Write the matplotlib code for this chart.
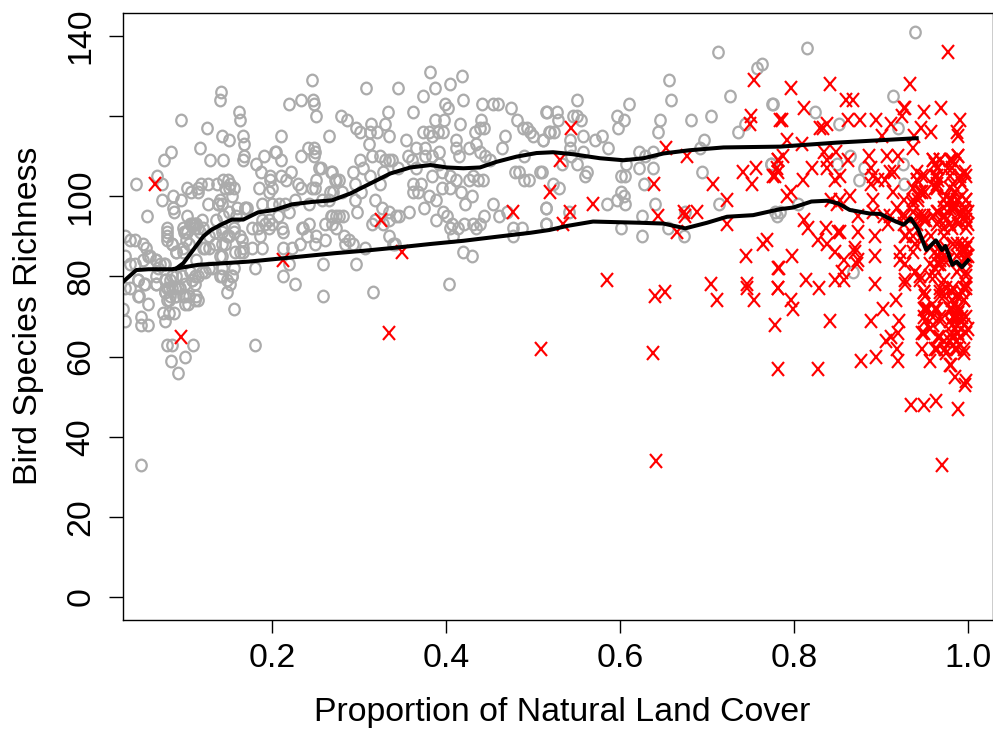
import matplotlib
matplotlib.use("Agg")
import matplotlib.pyplot as plt
from matplotlib.markers import MarkerStyle
from matplotlib.transforms import Affine2D

plt.rcParams['font.family'] = ['Liberation Sans', 'DejaVu Sans']

x_label = "Proportion of Natural Land Cover"
y_label = "Bird Species Richness"
x_ticks = [0.2, 0.4, 0.6, 0.8, 1.0]
y_ticks = [0, 20, 40, 60, 80, 100, 120, 140]
y_tick_labels = ["0", "20", "40", "60", "80", "100", "", "140"]

gray_points = [
(.141,126),(.140,124),(.246,129),(.095,119),(.125,117),(.162,121),(.163,119),(.220,123),(.233,124),(.247,124),(.248,123),(.251,120),
(.142,115),(.150,114),(.167,115),(.168,113),(.210,115),(.265,115),(.117,112),(.084,111),(.076,109),(.129,109),(.144,109),(.168,110),
(.167,109),(.191,110),(.203,111),(.205,111),(.210,109),(.233,110),(.241,112),(.248,112),(.249,111),(.248,110),(.182,108),(.187,106),
(.198,105),(.198,104),(.222,106),(.210,105),(.216,104),(.254,107),(.256,107),(.268,106),(.250,104),(.068,105),(.044,103),(.074,103),
(.102,102),(.107,101),(.115,102),(.118,103),(.126,103),(.137,103),(.144,104),(.149,104),(.152,103),(.146,102),(.156,102),(.150,102),
(.115,101),(.185,102),(.200,102),(.196,101),(.230,103),(.233,102),(.246,102),(.249,102),(.267,101),(.272,104),(.073,99),(.086,100),
(.095,99),(.086,97),(.087,96),(.154,100),(.140,99),(.126,98),(.138,98),(.142,98),(.056,95),(.102,95),(.160,97),(.169,97),(.171,97),
(.189,98),(.200,98),(.208,98),(.215,98),(.226,99),(.242,98),(.257,99),(.265,99),(.219,96),(.268,95),(.207,95),(.261,93),(.242,93),
(.234,92),(.110,93),(.119,94),(.136,94),(.144,95),(.177,92),(.192,93),(.196,94),(.188,94),(.200,93),(.211,92),(.079,92),(.098,92),(.115,92),
(.079,91),(.079,89),(.085,88),(.099,91),(.101,89),(.104,88),(.090,86),(.098,86),(.108,93),(.113,93),(.123,87),(.134,88),(.142,91),
(.150,90),(.142,88),(.156,92),(.165,89),(.167,86),(.157,86),(.142,85),(.184,92),(.196,92),(.186,90),(.188,87),(.180,82),(.177,87),
(.213,91),(.213,87),(.223,87),(.232,88),(.236,92),(.240,90),(.249,88),(.251,90),(.261,89),(.259,83),(.219,83),(.213,80),(.226,78),
(.259,75),(.156,72),(.148,76),(.152,78),(.154,80),(.142,80),(.142,82),(.156,82),(.127,82),(.119,81),(.111,80),(.111,78),(.108,79),
(.031,90),(.037,89),(.042,89),(.052,88),(.055,87),(.031,85),(.037,83),(.058,85),(.052,84),(.042,83),(.067,84),(.076,83),(.069,82),
(.067,80),(.046,79),(.053,78),(.037,77),(.031,77),(.046,75),(.047,75),(.058,73),(.067,78),(.077,79),(.083,79),(.090,80),(.100,78),
(.079,77),(.085,77),(.092,77),(.077,76),(.083,75),(.079,74),(.090,75),(.098,75),(.104,75),(.111,74),(.115,74),(.100,73),(.103,73),
(.087,71),(.081,71),(.075,71),(.077,69),(.049,70),(.049,68),(.058,68),(.031,69),(.029,72),(.079,63),(.085,63),(.109,63),(.180,63),
(.100,60),(.084,59),(.092,56),(.049,33),
(.100,91),(.106,93),(.113,93),(.121,92),(.127,90),(.134,91),(.142,92),(.148,90),(.156,91),(.146,88),(.140,85),(.127,87),(.121,87),
(.113,84),(.106,81),(.096,80),(.085,80),(.077,79),(.081,77),(.088,77),(.094,77),(.108,79),(.115,80),(.123,81),(.131,82),(.140,80),
(.154,80),(.148,79),(.067,78),(.054,78),(.046,79),(.067,84),(.060,85),(.071,83),(.077,83),(.079,90),(.085,88),(.090,86),(.098,87),
(.102,91),(.111,92),(.117,91),(.159,95),(.167,87),(.163,90),(.163,86),(.169,97),(.150,96),(.138,98),(.081,74),(.100,75),(.113,75),
(.077,76),(.088,75),
(.308,127),(.345,127),(.382,131),(.418,130),(.404,128),(.387,127),(.374,125),(.419,124),(.399,123),(.402,122),(.441,123),(.454,123),
(.460,123),(.475,122),(.515,121),(.333,121),(.362,121),(.279,120),(.286,119),(.297,117),(.301,116),(.314,118),(.313,116),(.321,116),
(.330,118),(.334,115),(.387,119),(.398,119),(.416,118),(.440,119),(.397,116),(.391,116),(.373,116),(.380,116),(.384,115),(.433,116),
(.439,117),(.444,117),(.482,119),(.489,117),(.493,117),(.497,116),(.500,115),(.512,114),(.518,116),(.468,115),(.354,114),(.412,114),
(.435,113),(.312,113),(.365,112),(.376,112),(.411,112),(.426,112),(.464,112),(.356,110),(.361,109),(.376,110),(.384,110),(.392,111),
(.415,110),(.439,111),(.445,110),(.450,109),(.490,110),(.315,110),(.324,110),(.301,109),(.330,109),(.335,109),(.338,109),(.345,107),
(.304,107),(.293,106),(.313,105),(.327,106),(.269,106),(.366,107),(.392,108),(.395,106),(.405,105),(.411,104),(.384,105),(.426,104),
(.431,105),(.437,104),(.443,104),(.479,106),(.484,106),(.508,106),(.490,104),(.495,104),(.274,104),(.277,104),(.295,103),(.324,103),
(.362,103),(.371,103),(.395,102),(.405,102),(.417,101),(.270,101),(.280,101),(.302,101),(.362,101),(.368,101),(.380,100),(.389,99),
(.430,100),(.422,98),(.454,98),(.295,99),(.318,99),(.326,97),(.375,97),(.358,96),(.397,96),(.401,95),(.298,96),(.334,96),(.346,95),
(.343,95),(.444,95),(.461,95),(.470,96),(.274,95),(.269,95),(.282,95),(.277,95),(.515,97),(.515,93),(.388,94),(.315,93),(.318,94),
(.328,93),(.335,94),(.407,93),(.405,92),(.414,92),(.421,93),(.431,93),(.435,92),(.439,93),(.477,92),(.487,92),(.477,90),(.408,90),
(.334,90),(.339,88),(.341,88),(.283,90),(.288,89),(.284,88),(.293,88),(.307,87),(.269,93),(.274,92),(.419,86),(.430,85),(.296,83),
(.403,78),(.316,76),
(.713,136),(.757,132),(.763,133),(.656,129),(.659,124),(.726,125),(.775,123),(.551,124),(.610,123),(.516,121),(.527,121),(.546,120),
(.550,120),(.555,119),(.529,119),(.596,120),(.604,119),(.598,117),(.646,119),(.644,116),(.682,119),(.704,120),(.736,116),(.744,118),
(.519,116),(.524,116),(.512,114),(.557,115),(.571,114),(.579,115),(.542,114),(.542,112),(.586,112),(.557,111),(.696,114),(.692,112),
(.622,111),(.638,111),(.629,110),(.544,110),(.533,108),(.550,108),(.607,108),(.622,107),(.638,107),(.562,106),(.560,105),(.510,106),
(.601,105),(.606,105),(.694,106),(.773,108),(.627,103),(.523,103),(.530,102),(.601,101),(.605,100),(.597,99),(.606,98),(.585,98),
(.640,98),(.714,98),(.515,97),(.541,96),(.515,93),(.625,95),(.675,96),(.780,95),(.784,96),(.601,92),(.655,92),(.625,90),(.673,90),
(.939,141),(.815,137),(.776,123),(.824,121),(.914,125),(.852,118),(.920,117),(.864,110),(.849,108),(.880,107),(.925,108),(.875,104),
(.926,103),(.805,98),(.778,96),(.774,108),(.868,81),
]

red_points = [
(.065,103),(.095,65),(.213,84),(.325,94),(.349,86),(.334,66),(.509,62),(.477,96),
(.544,117),(.531,109),(.519,101),(.569,98),(.543,96),(.535,93),(.653,112),(.677,110),(.639,103),(.644,95),(.674,96),(.675,95),(.688,96),
(.665,91),(.707,103),(.723,99),(.723,93),(.754,129),(.751,120),(.749,118),(.741,106),(.756,107),(.752,103),(.776,105),(.781,109),
(.781,106),(.769,89),(.764,88),(.745,85),(.585,79),(.652,76),(.640,75),(.638,61),(.641,34),(.704,78),(.711,74),(.746,78),(.746,77),
(.754,74),(.778,68),(.781,82),(.781,77),(.784,119),
(.977,136),(.841,128),(.797,127),(.933,128),(.860,124),(.868,124),(.812,122),(.786,119),(.926,122),(.928,122),(.924,120),(.949,121),
(.969,122),(.991,119),(.862,119),(.876,119),(.894,119),(.912,118),(.838,118),(.830,117),(.833,117),(.901,115),(.946,117),(.958,116),
(.938,115),(.987,116),(.989,115),(.792,114),(.809,113),(.937,112),(.834,111),(.848,111),(.787,110),(.782,109),(.838,109),(.862,109),
(.886,110),(.907,110),(.920,110),(.821,107),(.838,107),(.780,107),(.778,105),(.889,107),(.910,106),(.915,106),(.891,105),(.853,105),
(.810,104),(.847,104),(.889,103),(.897,104),(.905,104),(.914,101),(.797,101),(.792,100),(.864,100),(.843,99),(.853,99),(.891,99),
(.926,99),(.811,94),(.849,98),(.874,95),(.891,96),(.903,95),(.918,97),
(.960,109),(.968,109),(.981,109),(.989,110),(.964,107),(.981,107),(.997,106),(.941,106),(.951,105),(.964,105),(.979,105),(.991,104),
(.941,104),(.964,103),(.983,103),(.993,103),(.937,102),(.962,102),(.947,101),(.951,101),(.943,100),(.975,100),(.985,101),(.981,99),
(.993,100),(.998,99),(.972,99),(.987,99),(.996,97),(.937,98),(.985,97),(.979,97),(.991,96),(.998,95),(.945,95),(.960,95),(.972,95),
(.949,95),(.964,96),(.937,96),
(.816,92),(.837,92),(.828,89),(.838,88),(.851,91),(.853,91),(.874,91),(.893,90),(.847,86),(.870,87),(.870,86),(.798,85),(.857,84),
(.874,84),(.872,83),(.893,85),(.783,82),(.855,81),(.847,79),(.857,79),(.814,79),(.829,77),(.782,77),(.893,78),(.796,74),(.799,72),
(.917,74),(.902,72),(.841,69),(.889,69),(.921,69),(.919,66),(.912,65),(.906,64),(.918,62),(.877,59),(.894,60),(.919,59),(.781,57),
(.828,57),(.934,48),(.949,48),(.963,49),(.989,47),(.998,54),(.996,53),(.985,55),(.980,58),(.970,33),
(.922,86),(.922,84),(.928,83),(.929,90),(.939,88),(.937,86),(.939,81),(.928,79),(.928,78),(.945,79),(.949,76),(.950,75),(.956,80),
(.962,82),(.968,84),(.968,77),(.972,75),(.968,75),(.998,77),(.998,80),(.991,82),(.998,87),(.994,87),(.991,86),(.998,85),(.987,88),
(.952,72),(.949,72),(.964,72),(.950,69),(.960,70),(.968,70),(.981,72),(.987,72),(.995,74),(.998,70),(.949,66),(.960,68),(.968,65),
(.981,68),(.987,68),(.995,68),(.998,66),(.981,66),(.991,65),(.979,64),(.947,62),(.964,62),(.956,59),(.975,61),(.995,61),(.987,62),
(.972,64),(.987,75),(.981,74),(.991,72),(.987,70),(.993,70),(.983,70),(.991,75),(.981,76),(.995,77),
(.968,94),(.975,94),(.987,94),(.998,94),(.972,92),(.998,92),(.981,92),(.991,95),(.949,94),(.941,93),(.926,93),(.927,95),(.998,84),
(.968,86),(.975,87),(.956,87),(.972,84),(.966,83),(.910,95),(.908,93),(.924,95),(.941,95),
(.960,109),(.968,109),(.962,108),(.966,107),(.962,105),(.966,104),(.964,102),(.979,109),(.989,110),(.985,108),(.977,107),(.991,105),
(.998,105),(.979,102),(.985,101),(.979,99),(.998,99),(.989,99),(.972,97),(.983,97),(1.0,96),(.995,96),(.974,95),(1.0,93),(.979,93),
(.989,93),(.966,96),(.964,93),(.949,95),(.943,99),(.945,101),(.947,105),(.941,104),(.937,99),(.952,94),(.928,90),(.937,90),(.947,89),
(.958,90),(.972,90),(.993,88),(1.0,88),(.983,88),(.995,86),(1.0,85),(.987,85),(.962,86),(.970,86),(.977,84),(.996,84),
(.956,83),(.968,83),(.998,81),(.987,81),(.972,79),(.962,80),(.968,76),(.975,77),(.983,77),(.998,78),(.993,76),(.995,74),(.985,73),
(.979,72),(.989,71),(.985,70),(.993,69),(.979,69),(1.0,67),(.989,66),(.981,65),(.987,64),(.968,69),(.954,72),(.949,70),(.962,72),
(.966,65),(.956,67),(.947,66),(.974,62),(.962,62),(.995,62),(.985,62),(.979,58),(.945,80),(.939,81),(.949,76),
]

upper_x = [.090,.098,.108,.121,.130,.142,.154,.167,.184,.203,.223,.246,.269,.290,.313,.336,.359,.382,.401,.420,.439,.458,.481,.504,.523,.546,.577,.604,.627,.650,.680,.719,.784,.849,.941]
upper_y = [82,83.3,86.2,90,91.6,93,94.2,94.2,96,96.6,98,98.6,99,100.7,103.2,105.7,107.2,107.8,107.2,107,107.2,108.6,109.9,110.8,111,110.5,109.5,109,109.5,110.7,111.5,112.2,112.4,113.4,114.5]
lower_x = [.029,.044,.058,.085,.115,.173,.211,.272,.305,.343,.382,.420,.458,.497,.519,.539,.569,.623,.650,.675,.700,.723,.753,.784,.799,.820,.838,.851,.864,.887,.899,.914,.926,.934,.943,.952,.963,.970,.974,.982,.987,.993,1.0]
lower_y = [78.7,81.6,81.8,81.8,82.9,83.7,84.5,85.8,86.4,87.2,88.1,88.9,89.9,90.9,91.6,92.6,93.7,93.4,93.2,92,93.4,94.9,95.3,96.8,97.2,98.7,98.9,98.2,96.6,95.7,95.6,94,92.9,94.5,91.6,86.6,89,86.6,87.6,82.9,83.7,82.3,84]

fig = plt.figure(figsize=(9.93, 7.29), dpi=100)
ax = fig.add_axes([123/993, 1-620/729, 870/993, 607/729])

circle = MarkerStyle('o', transform=Affine2D().scale(0.9, 1.0))
cross = MarkerStyle('x', transform=Affine2D().scale(0.92, 1.0))
ax.plot([p[0] for p in gray_points], [p[1] for p in gray_points], ls='none', marker=circle,
        mfc='none', mec='#ababab', ms=8.4, mew=1.6, zorder=2)
ax.plot([p[0] for p in red_points], [p[1] for p in red_points], ls='none', marker=cross,
        mec='#ff0000', ms=9.6, mew=1.55, zorder=3)
ax.plot(upper_x, upper_y, color='black', lw=2.9, zorder=4, solid_joinstyle='round')
ax.plot(lower_x, lower_y, color='black', lw=2.9, zorder=4, solid_joinstyle='round')

ax.set_xlim(0.0287, 1.0287)
ax.set_ylim(-5.74, 145.75)
ax.set_xticks(x_ticks, [f"{v:.1f}" for v in x_ticks])
ax.set_yticks(y_ticks, y_tick_labels)
ax.tick_params(axis='x', length=9.5, width=1.0, labelsize=24.4, pad=7)
ax.tick_params(axis='y', length=10, width=1.0, labelsize=24.4, pad=9)
for t in ax.get_yticklabels():
    t.set_rotation(90)
    t.set_va('center')
for s in ax.spines.values():
    s.set_linewidth(1.0)
fig.text(562/993, 1-712/729, x_label, ha='center', va='center', fontsize=24.4)
fig.text(29/993, 1-316/729, y_label, ha='center', va='center', rotation=90, fontsize=24.4)
fig.savefig('out.png', dpi=100)
